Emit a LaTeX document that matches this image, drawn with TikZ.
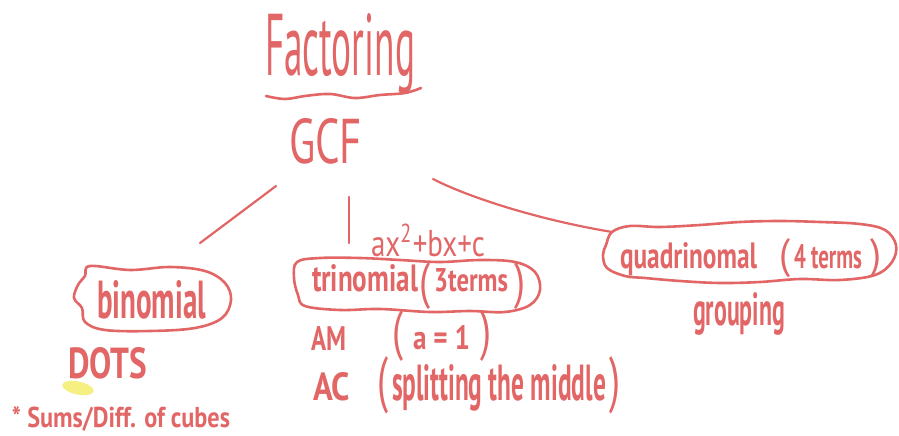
\documentclass[tikz,border=0pt]{standalone}
\usepackage{fontspec}
\setmainfont{PT Sans}
\usepackage{graphicx}
\definecolor{ink}{RGB}{226,102,102}
\definecolor{hilite}{RGB}{246,240,130}
\newcommand\hwbox[3]{\resizebox{#1pt}{#2pt}{\bfseries #3}}
\newcommand\hwthin[3]{\resizebox{#1pt}{#2pt}{#3}}
\newcommand\hwpar[2]{\resizebox{11pt}{#1pt}{#2}}
\tikzset{
  hand/.style={anchor=base west, inner sep=0pt, outer sep=0pt, text=ink},
  blob/.style={draw=ink, line width=2.6pt, line cap=round, line join=round},
  link/.style={draw=ink, line width=2.2pt, line cap=round},
}
\begin{document}
\begin{tikzpicture}[x=1pt,y=-1pt]
\fill[white] (0,0) rectangle (899,436);
\useasboundingbox (0,0) rectangle (899,436);

% title
\node[hand] (fact) at (265,75) {\hwthin{150}{62}{Factoring}};
\draw[blob] plot[smooth, tension=0.6] coordinates {(266,96) (285,99) (305,96) (330,94) (355,98) (380,95) (405,93) (421,88)};
\node[hand] (gcf) at (289,163) {\hwthin{73}{45}{GCF}};

% connectors
\coordinate (l1a) at (276,186);
\coordinate (l1b) at (200,243);
\coordinate (l2a) at (349,197);
\coordinate (l2b) at (349,243);
\coordinate (l3a) at (433,179);
\coordinate (l3b) at (612,232);
\draw[link] (l1a) -- (l1b);
\draw[link] (l2a) -- (l2b);
\draw[link] (l3a) .. controls (470,198) and (540,220) .. (l3b);

% binomial
\draw[blob] plot[smooth cycle, tension=0.6] coordinates {(90,266) (130,270) (170,267) (205,271) (225,283) (231,300) (222,318) (195,328) (150,331) (105,330) (85,322) (82,308) (74,298) (78,285) (85,276)};
\node[hand] (bin) at (97,318) {\hwbox{109}{38}{binomial}};
\fill[hilite] (78,388) ellipse [x radius=16, y radius=6.5, rotate=-12];
\node[hand] (dots) at (68,378) {\hwbox{79}{31}{DOTS}};
\node[hand] (cubes) at (12,427) {\hwbox{218}{21}{* Sums/Diff. of cubes}};

% trinomial
\node[hand] (ax) at (371,256) {\hwthin{114}{32}{ax\textsuperscript{2}+bx+c}};
\draw[blob] plot[smooth cycle, tension=0.6] coordinates {(297,262) (320,258) (360,258) (400,260) (440,262) (480,260) (515,262) (535,272) (540,290) (530,305) (505,312) (470,311) (430,312) (380,309) (340,310) (305,306) (298,295) (294,278)};
\node[hand] (tri) at (312,291) {\hwbox{106}{27}{trinomial}};
\node[hand] (three) at (419,298) {\hwpar{36}{(}\hspace{4pt}\raisebox{7pt}{\hwbox{74}{23}{3terms}}\hspace{6pt}\hwpar{36}{)}};
\node[hand] (am) at (311,350) {\hwbox{35}{24}{AM}};
\node[hand] (aone) at (392,349) {\hwpar{39}{(}\hspace{10pt}\hwbox{57}{24}{a = 1}\hspace{10pt}\hwpar{39}{)}};
\node[hand] (ac) at (313,400) {\hwbox{37}{28}{AC}};
\node[hand] (split) at (377,400) {\hwpar{44}{(}\hspace{4pt}\hwbox{214}{36}{splitting the middle}\hspace{3pt}\hwpar{44}{)}};

% quadrinomial
\draw[blob] plot[smooth cycle, tension=0.6] coordinates {(606,245) (612,232) (630,226) (660,227) (700,225) (740,222) (780,221) (820,222) (860,224) (885,230) (896,245) (892,262) (875,275) (840,280) (800,279) (760,282) (720,283) (680,281) (645,278) (625,276) (607,268) (603,255)};
\node[hand] (quad) at (620,268) {\hwbox{137}{26}{quadrinomal}};
\node[hand] (four) at (779,268) {\hwpar{30}{(}\hspace{4pt}\hwbox{68}{24}{4 terms}\hspace{8pt}\hwpar{30}{)}};
\node[hand] (grp) at (693,325) {\hwbox{92}{33}{grouping}};
\end{tikzpicture}
\end{document}
